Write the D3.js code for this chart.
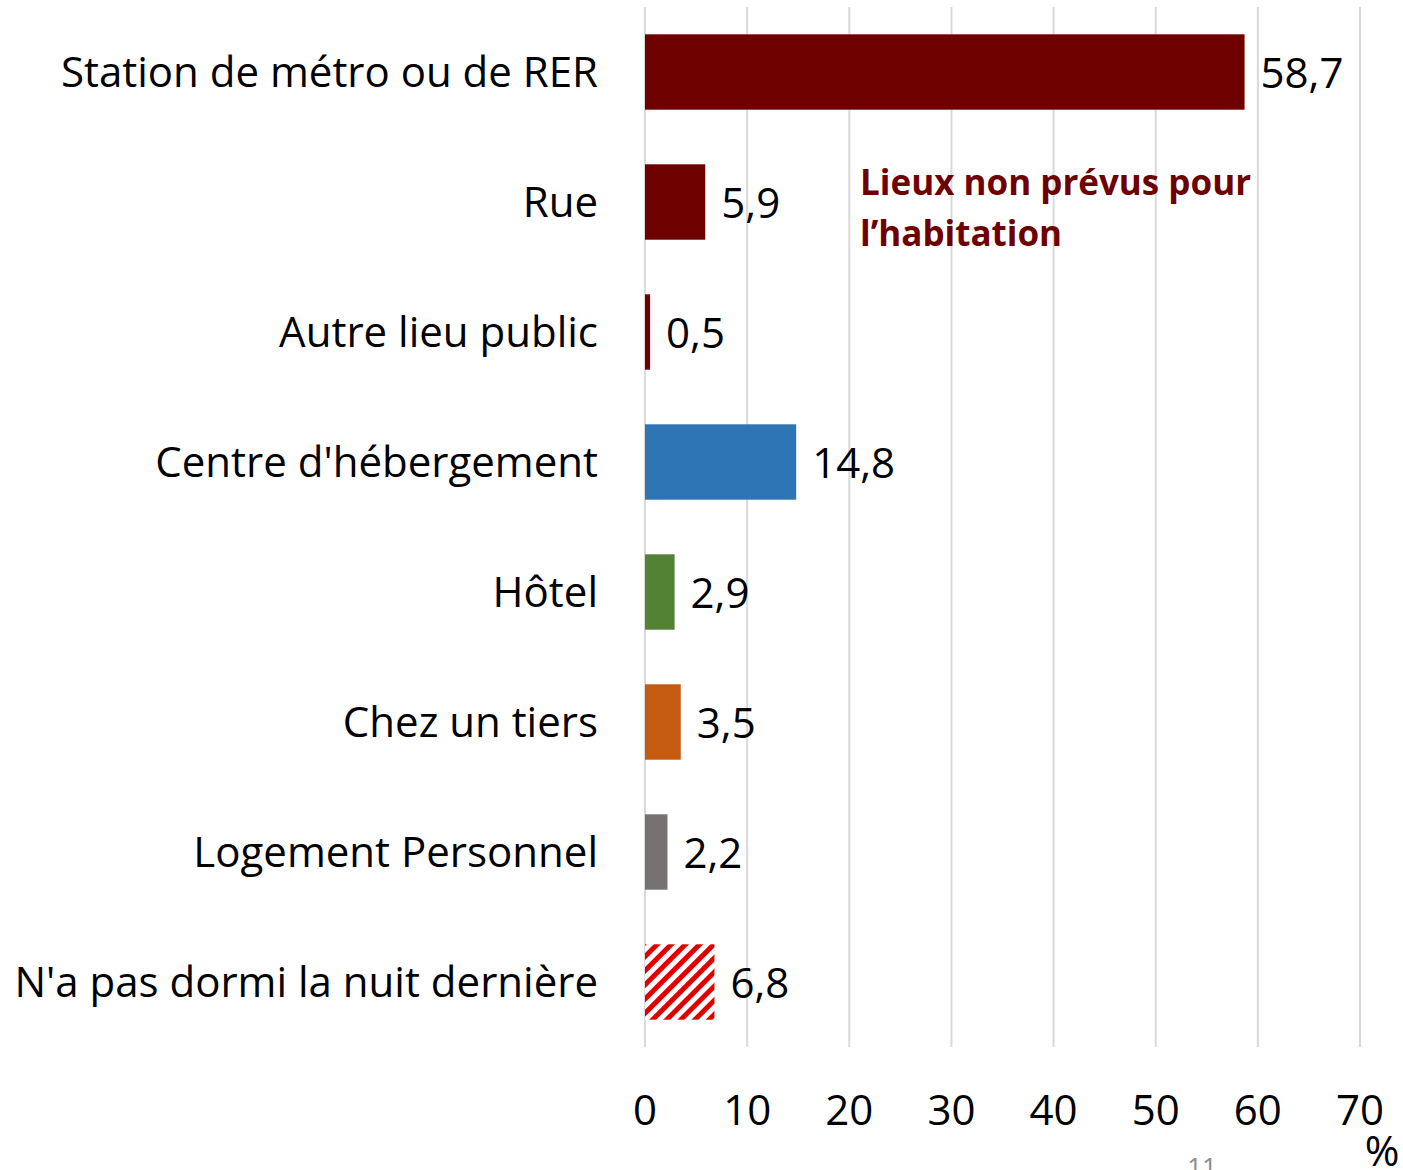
<!DOCTYPE html>
<html>
<head>
<meta charset="utf-8">
<script src="https://cdn.jsdelivr.net/npm/d3@7"></script>
<style>
  body { margin: 0; background: #fff; }
  svg { display: block; font-family: 'Open Sans', Lato, sans-serif; font-variant-ligatures: none; }
</style>
</head>
<body>
<div id="chart"></div>
<script>
const CATEGORIES = ['Station de métro ou de RER', 'Rue', 'Autre lieu public', "Centre d'hébergement", 'Hôtel', 'Chez un tiers', 'Logement Personnel', "N'a pas dormi la nuit dernière"];
const VALUES = [58.7, 5.9, 0.5, 14.8, 2.9, 3.5, 2.2, 6.8];
const COLORS = ['#6f0000', '#6f0000', '#6f0000', '#2e75b6', '#548235', '#c55a11', '#767171', 'url(#hatch)'];
const X_TICKS = [0, 10, 20, 30, 40, 50, 60, 70];
const NOTE_LINES = ['Lieux non prévus pour', 'l’habitation'];

const W = 1403, H = 1170;
const M = { t: 7, r: 43, b: 123, l: 645 };
const svg = d3.select('#chart').append('svg').attr('width', W).attr('height', H);

const defs = svg.append('defs');
const pat = defs.append('pattern').attr('id', 'hatch').attr('patternUnits', 'userSpaceOnUse')
  .attr('width', 10).attr('height', 10).attr('patternTransform', 'rotate(45)');
pat.append('rect').attr('width', 10).attr('height', 10).attr('fill', '#fff');
pat.append('rect').attr('width', 5).attr('height', 10).attr('fill', '#e00000');

const x = d3.scaleLinear().domain([0, 70]).range([M.l, W - M.r]);
const y = d3.scaleBand().domain(CATEGORIES).range([M.t, H - M.b]).paddingInner(0.42).paddingOuter(0.21);

// gridlines
svg.append('g').selectAll('line').data(X_TICKS).enter().append('line')
  .attr('x1', d => x(d)).attr('x2', d => x(d)).attr('y1', M.t).attr('y2', H - M.b)
  .attr('stroke', '#d9d9d9').attr('stroke-width', 2);

// bars
svg.append('g').selectAll('rect').data(VALUES).enter().append('rect')
  .attr('x', x(0)).attr('y', (d, i) => y(CATEGORIES[i]))
  .attr('width', d => x(d) - x(0)).attr('height', y.bandwidth())
  .attr('fill', (d, i) => COLORS[i]);

// value labels
svg.append('g').selectAll('text').data(VALUES).enter().append('text')
  .attr('x', d => x(d) + 16).attr('y', (d, i) => y(CATEGORIES[i]) + y.bandwidth() / 2 + 16)
  .attr('font-size', 42).attr('fill', '#000')
  .text(d => d3.format('.1f')(d).replace('.', ','));

// category labels
svg.append('g').selectAll('text').data(CATEGORIES).enter().append('text')
  .attr('x', 598).attr('y', d => y(d) + y.bandwidth() / 2 + 15)
  .attr('text-anchor', 'end').attr('font-size', 42).attr('fill', '#000')
  .text(d => d);

// x axis tick labels
svg.append('g').selectAll('text').data(X_TICKS).enter().append('text')
  .attr('x', d => x(d)).attr('y', 1125).attr('text-anchor', 'middle')
  .attr('font-size', 42).attr('fill', '#000').text(d => d);

svg.append('text').attr('x', 1382).attr('y', 1166).attr('text-anchor', 'middle')
  .attr('font-size', 42).attr('fill', '#000').text('%');

// page number, cut by the bottom edge as in the source
svg.append('text').attr('x', 1202).attr('y', 1176).attr('text-anchor', 'middle')
  .attr('font-size', 26).attr('fill', '#8c8c8c').text('11');

// annotation
svg.append('g').selectAll('text').data(NOTE_LINES).enter().append('text')
  .attr('x', 860).attr('y', (d, i) => 195 + i * 51)
  .attr('font-size', 35).attr('font-weight', 700).attr('fill', '#6f0000').text(d => d);
</script>
</body>
</html>
